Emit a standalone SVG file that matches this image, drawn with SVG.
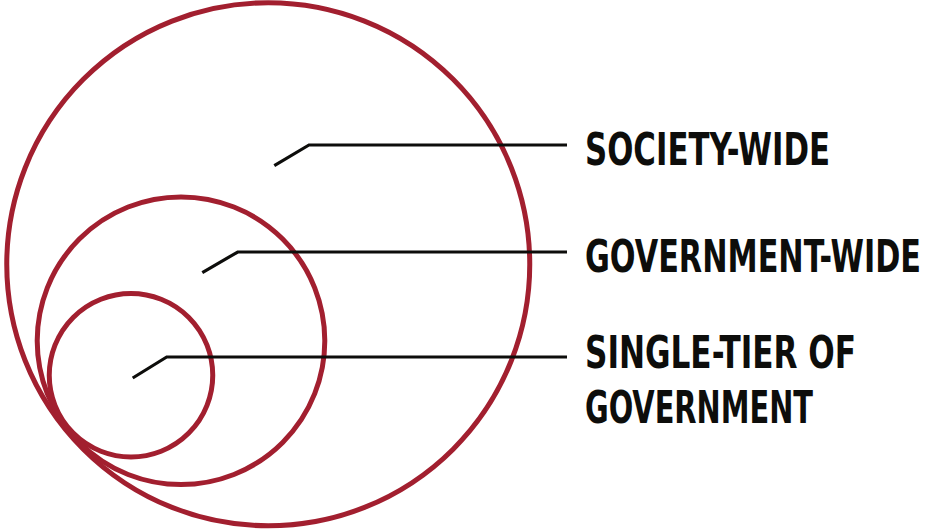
<svg xmlns="http://www.w3.org/2000/svg" width="926" height="529" viewBox="0 0 926 529">
<style>
.ring{fill:none;stroke:#a21f2f;stroke-width:5}
.lead{fill:none;stroke:#0d0d0b;stroke-width:3.2;stroke-linejoin:miter}
.lbl{font-family:"DejaVu Sans Condensed","DejaVu Sans","Liberation Sans",sans-serif;font-stretch:condensed;font-weight:bold;font-size:31px;fill:#0d0d0b}
</style>
<rect width="926" height="529" fill="#ffffff"/>
<g id="society-wide">
<circle class="ring" cx="268.25" cy="264.25" r="261.5"/>
<text class="lbl" transform="translate(585 165) scale(1 1.44)" x="0" y="0" textLength="245" lengthAdjust="spacingAndGlyphs">SOCIETY-WIDE</text>
</g>
<g id="government-wide">
<circle class="ring" cx="181" cy="340.75" r="143.8"/>
<text class="lbl" transform="translate(585 271.7) scale(1 1.44)" x="0" y="0" textLength="336" lengthAdjust="spacingAndGlyphs">GOVERNMENT-WIDE</text>
</g>
<g id="single-tier">
<circle class="ring" cx="131" cy="375.25" r="81.75"/>
<text class="lbl" transform="translate(585 368.3) scale(1 1.44)" x="0" y="0" textLength="271" lengthAdjust="spacingAndGlyphs">SINGLE-TIER OF</text>
<text class="lbl" transform="translate(585 423.3) scale(1 1.44)" x="0" y="0" textLength="228" lengthAdjust="spacingAndGlyphs">GOVERNMENT</text>
</g>
<g id="connectors">
<polyline class="lead" points="274.3,165.7 309,145 567,145"/>
<polyline class="lead" points="202.3,272.7 237.7,252 567,252"/>
<polyline class="lead" points="132.7,378 166.7,357 567,357"/>
</g>
</svg>
